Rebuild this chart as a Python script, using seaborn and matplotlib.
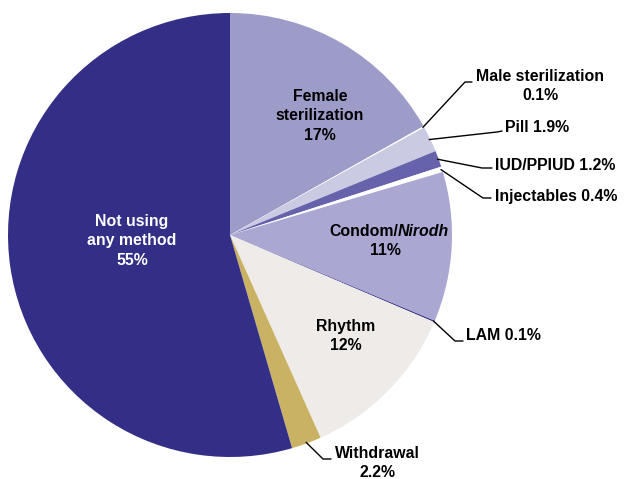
import matplotlib
matplotlib.use("Agg")
import matplotlib.pyplot as plt
import seaborn as sns
import numpy as np

categories = ["Female sterilization", "Male sterilization", "Pill", "IUD/PPIUD",
              "Injectables", "Condom/Nirodh", "LAM", "Rhythm", "Withdrawal",
              "Not using any method"]
values = [17, 0.1, 1.9, 1.2, 0.4, 11, 0.1, 12, 2.2, 55]
colors = ["#9D9BC8", "#FFFFFF", "#CBCAE3", "#6663AC", "#FFFFFF",
          "#AAA8D3", "#332F86", "#EEEBE8", "#C9B263", "#332F86"]

# inside labels: index -> text
inside_labels = {0: "Female\nsterilization\n17%", 7: "Rhythm\n12%",
                 9: "Not using\nany method\n55%"}
inside_colors = {0: "black", 7: "black", 9: "white"}
# outside labels: index -> text
outside_labels = {1: "Male sterilization\n0.1%", 2: "Pill 1.9%", 3: "IUD/PPIUD 1.2%",
                  4: "Injectables 0.4%", 6: "LAM 0.1%", 8: "Withdrawal\n2.2%"}

sns.set_theme(style="white")
plt.rcParams["font.family"] = ["Liberation Sans", "DejaVu Sans"]
plt.rcParams["font.weight"] = "bold"

W, H = 624, 479
CX, CY, R = 230, 235, 222  # pixel centre and radius


def d(px, py):
    return ((px - CX) / R, (CY - py) / R)


fig = plt.figure(figsize=(W / 100, H / 100), dpi=100)
ax = fig.add_axes([0, 0, 1, 1])
wedges, _ = ax.pie(values, colors=colors, startangle=90, counterclock=False,
                   radius=1, wedgeprops=dict(linewidth=0))
ax.set_aspect("auto")
ax.set_xlim((0 - CX) / R, (W - CX) / R)
ax.set_ylim((CY - H) / R, CY / R)
ax.axis("off")

fs = 11.4
LS = 1.4
# inside label positions (pixels)
inside_pos = {0: (320, 116), 7: (346, 336), 9: (132, 241)}
for i, txt in inside_labels.items():
    x, y = d(*inside_pos[i])
    ax.text(x, y, txt, ha="center", va="center", fontsize=fs, fontweight="bold",
            linespacing=LS, color=inside_colors[i])

# Condom / Nirodh label with italic part
cx, cy = d(398, 232)
ax.text(cx, cy, "Condom/", ha="right", va="center", fontsize=fs,
        fontweight="bold", color="black")
ax.text(cx, cy, "Nirodh", ha="left", va="center", fontsize=fs,
        fontweight="bold", fontstyle="italic", color="black")
x, y = d(385, 251)
ax.text(x, y, "11%", ha="center", va="center", fontsize=fs, fontweight="bold",
        color="black")

# outside labels: elbow (px), line end (px), text anchor (px)
outside_geom = {
    1: ((465, 82), (472, 82), (476, 86)),
    2: ((497, 132), (502, 131), (505, 128)),
    3: ((482, 168), (492, 168), (495, 165)),
    4: ((483, 198), (491, 198), (495, 196)),
    6: ((455, 341), (463, 341), (466, 336)),
    8: ((323, 459), (331, 459), (335, 463)),
}
for i, txt in outside_labels.items():
    w = wedges[i]
    ang = np.deg2rad((w.theta1 + w.theta2) / 2)
    sx, sy = 0.995 * np.cos(ang), 0.995 * np.sin(ang)
    (ex, ey), (lx, ly), (tx, ty) = [d(*p) for p in outside_geom[i]]
    ax.plot([sx, ex, lx], [sy, ey, ly], color="black", lw=1.0)
    ax.text(tx, ty, txt, ha="left", va="center", fontsize=fs, fontweight="bold",
            multialignment="center", linespacing=LS, color="black")

fig.savefig("out.png", dpi=100)
